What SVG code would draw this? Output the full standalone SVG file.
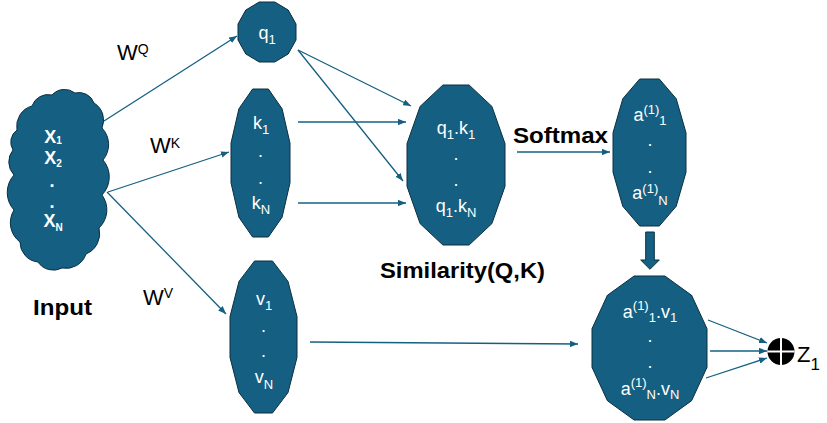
<svg xmlns="http://www.w3.org/2000/svg" width="827" height="423" viewBox="0 0 827 423">
<style>
.node{fill:#156082;stroke:#0b2f40;stroke-width:1}
.wt{fill:#fff;font-family:"Liberation Sans",Arial,sans-serif;font-size:18px;text-anchor:middle}
.s{font-size:13px}
.b{font-weight:bold}
.lbl{fill:#000;font-family:"Liberation Sans",Arial,sans-serif;font-size:22px}
.conn line{stroke:#156082;stroke-width:1.3;fill:none;marker-end:url(#ah)}
</style>
<defs>
<marker id="ah" viewBox="0 0 10 8" refX="10" refY="4" markerWidth="8" markerHeight="6.4" markerUnits="userSpaceOnUse" orient="auto">
<path d="M0,0 L10,4 L0,8 z" fill="#156082"/>
</marker>
</defs>
<rect width="827" height="423" fill="#fff"/>

<g id="connectors" class="conn">
<line x1="104" y1="121" x2="237" y2="36"/>
<line x1="108" y1="192" x2="229" y2="152"/>
<line x1="107" y1="192" x2="226" y2="314"/>
<line x1="298" y1="50" x2="411" y2="106"/>
<line x1="298" y1="50" x2="403" y2="181"/>
<line x1="298" y1="122" x2="406" y2="122"/>
<line x1="298" y1="203" x2="406" y2="203"/>
<line x1="517" y1="152" x2="610" y2="152"/>
<line x1="310" y1="342" x2="578" y2="344"/>
<line x1="708" y1="320" x2="767" y2="343"/>
<line x1="710" y1="351" x2="767" y2="351"/>
<line x1="706" y1="378" x2="767" y2="358"/>
<path d="M645.7,232 H654.3 V260 H659.3 L650,269.3 L640.7,260 H645.7 Z" fill="#156082" stroke="#0b2f40" stroke-width="1"/>
</g>

<g id="input">
<path class="node" d="M17,130 A21,21 0 0 1 32,106 A17,17 0 0 1 52,95 A17,17 0 0 1 75,93 A16,16 0 0 1 94,103 A20,20 0 0 1 102,128 A24,24 0 0 1 103,160 A26,26 0 0 1 102,195 A25,25 0 0 1 99,228 A22,22 0 0 1 86,254 A21,21 0 0 1 62,268 A18.5,18.5 0 0 1 38,262 A20,20 0 0 1 20,242 A24,24 0 0 1 14,210 A26,26 0 0 1 14,175 A19,19 0 0 1 13,150 A15,15 0 0 1 17,130 Z"/>
<text class="wt b" font-size="16" x="53" y="143">X<tspan font-size="10" dy="1">1</tspan></text>
<text class="wt b" font-size="16" x="53" y="164">X<tspan font-size="10" dy="3">2</tspan></text>
<text class="wt b" font-size="16" x="52" y="187">.</text>
<text class="wt b" font-size="16" x="52" y="208">.</text>
<text class="wt b" font-size="16" x="53" y="227">X<tspan font-size="10" dy="4">N</tspan></text>
<text class="lbl b" x="33" y="315" font-size="21" textLength="59" lengthAdjust="spacingAndGlyphs">Input</text>
</g>

<g id="wlabels">
<text class="lbl" x="117" y="60">W<tspan font-size="14" dy="-6">Q</tspan></text>
<text class="lbl" x="150" y="153">W<tspan font-size="14" dy="-5">K</tspan></text>
<text class="lbl" x="143" y="305">W<tspan font-size="14" dy="-7">V</tspan></text>
</g>

<g id="q">
<polygon class="node" points="238,24 245.8,10 259.2,2 274.8,2 288.2,10 296,24 296,40 288.2,54 274.8,62 259.2,62 245.8,54 238,40"/>
<text class="wt" x="267" y="39">q<tspan class="s" dy="5">1</tspan></text>
</g>

<g id="k">
<polygon class="node" points="231,143.2 238.9,108.8 252.6,89 268.4,89 282.1,108.8 290,143.2 290,182.8 282.1,217.2 268.4,237 252.6,237 238.9,217.2 231,182.8"/>
<text class="wt" x="261" y="129">k<tspan class="s" dy="5">1</tspan></text>
<text class="wt" x="260.5" y="156.5">.</text>
<text class="wt" x="260.5" y="183.5">.</text>
<text class="wt" x="261" y="209">k<tspan class="s" dy="5">N</tspan></text>
</g>

<g id="v">
<polygon class="node" points="230,316.6 239,281.4 254.5,261 272.5,261 288,281.4 297,316.6 297,357.4 288,392.6 272.5,413 254.5,413 239,392.6 230,357.4"/>
<text class="wt" x="264" y="305">v<tspan class="s" dy="5">1</tspan></text>
<text class="wt" x="263.5" y="332">.</text>
<text class="wt" x="263.5" y="357">.</text>
<text class="wt" x="264" y="383">v<tspan class="s" dy="6">N</tspan></text>
</g>

<g id="similarity">
<polygon class="node" points="407,143.6 420.1,106.4 442.9,85 469.1,85 491.9,106.4 505,143.6 505,186.4 491.9,223.6 469.1,245 442.9,245 420.1,223.6 407,186.4"/>
<text class="wt" x="456" y="134">q<tspan class="s" dy="5">1</tspan><tspan dy="-5">.k</tspan><tspan class="s" dy="5">1</tspan></text>
<text class="wt" x="456" y="159.5">.</text>
<text class="wt" x="456" y="185.5">.</text>
<text class="wt" x="456" y="212">q<tspan class="s" dy="5">1</tspan><tspan dy="-5">.k</tspan><tspan class="s" dy="5">N</tspan></text>
<text class="lbl b" x="380" y="278" textLength="165" lengthAdjust="spacingAndGlyphs">Similarity(Q,K)</text>
</g>

<g id="softmax">
<text class="lbl b" x="513" y="143" textLength="95" lengthAdjust="spacingAndGlyphs">Softmax</text>
<polygon class="node" points="613,132.8 622.8,98.7 639.7,79 659.3,79 676.2,98.7 686,132.8 686,172.2 676.2,206.3 659.3,226 639.7,226 622.8,206.3 613,172.2"/>
<text class="wt" x="650" y="121">a<tspan class="s" dy="-7">(1)</tspan><tspan class="s" dy="11">1</tspan></text>
<text class="wt" x="650" y="146">.</text>
<text class="wt" x="650" y="173">.</text>
<text class="wt" x="650" y="199">a<tspan class="s" dy="-6">(1)</tspan><tspan class="s" dy="12">N</tspan></text>
</g>

<g id="weighted">
<polygon class="node" points="592,328.7 607.4,295.3 634.1,276 664.9,276 691.6,295.3 707,328.7 707,367.3 691.6,400.7 664.9,420 634.1,420 607.4,400.7 592,367.3"/>
<text class="wt" x="650" y="318">a<tspan class="s" dy="-8">(1)</tspan><tspan class="s" dy="12">1</tspan><tspan dy="-4">.v</tspan><tspan class="s" dy="4">1</tspan></text>
<text class="wt" x="650" y="342">.</text>
<text class="wt" x="650" y="368">.</text>
<text class="wt" x="650" y="395">a<tspan class="s" dy="-8">(1)</tspan><tspan class="s" dy="12">N</tspan><tspan dy="-4">.v</tspan><tspan class="s" dy="4">N</tspan></text>
</g>

<g id="sum">
<circle cx="781" cy="351.5" r="13.5" fill="#000"/>
<line x1="767.5" y1="351.5" x2="794.5" y2="351.5" stroke="#fff" stroke-width="2"/>
<line x1="781" y1="338" x2="781" y2="365" stroke="#fff" stroke-width="2"/>
<text class="lbl" x="797" y="362" font-size="24">Z<tspan font-size="17" dy="8">1</tspan></text>
</g>
</svg>
